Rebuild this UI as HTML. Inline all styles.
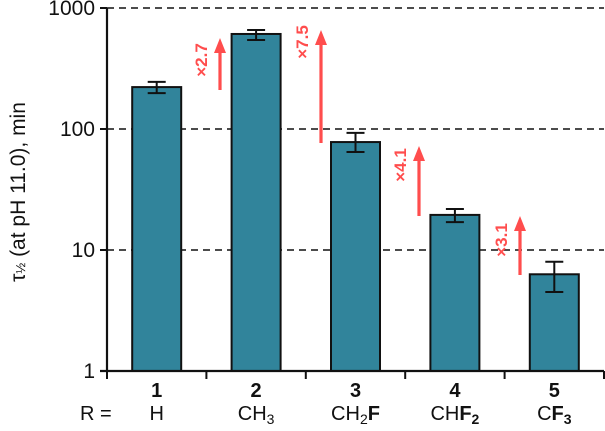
<!DOCTYPE html>
<html><head><meta charset="utf-8"><style>
body{margin:0;background:#fff}
svg text{font-family:"Liberation Sans",Arial,sans-serif}
</style></head><body>
<svg id="chart" width="605" height="426" viewBox="0 0 605 426">
<g id="grid"></g>
<g id="bars"></g>
<g id="axes"></g>
<g id="ann"></g>
<text transform="translate(25,192) rotate(-90)" text-anchor="middle" font-size="21" fill="#111">τ<tspan font-size="13">½</tspan> (at pH 11.0), min</text>
<text x="80" y="420" font-size="20" fill="#111">R =</text>
</svg>
<script>
const categories=["1","2","3","4","5"];
const substituents=[["H",""],["CH","3"],["CH","2","F"],["CH","F2"],["C","F3"]];
const values=[222,610,78,19.5,6.3];
const errHigh=[245,658,93,21.8,8.0];
const errLow=[198,544,64.5,17,4.5];
const yTicks=[1,10,100,1000];
const ratioLabels=["×2.7","×7.5","×4.1","×3.1"];
const NS="http://www.w3.org/2000/svg";
const x0=107,x1=604,band=(x1-x0)/5;
const yTop=8,yBot=371;
function y(v){return yBot-Math.log10(v)/3*(yBot-yTop);}
function xc(i){return x0+band*(i+0.5);}
function mk(tag,attrs,parent,txt){const e=document.createElementNS(NS,tag);for(const k in attrs)e.setAttribute(k,attrs[k]);if(txt!==undefined)e.textContent=txt;parent.appendChild(e);return e;}
const grid=document.getElementById('grid'),bars=document.getElementById('bars'),axes=document.getElementById('axes'),ann=document.getElementById('ann');
yTicks.forEach(t=>{
  if(t>1){const l=mk('line',{x1:x0,x2:x1,y1:y(t),y2:y(t),stroke:'#111','stroke-width':1.6,'stroke-dasharray':'7,5'},grid);
  
  }
  const tk=mk('line',{x1:x0-7,x2:x0,y1:y(t),y2:y(t),stroke:'#111','stroke-width':2},axes);
  
  
  const tl=mk('text',{x:x0-12,y:y(t)+7,'text-anchor':'end','font-size':21,fill:'#111'},axes,String(t));
  
  
});
const bw=49;
values.forEach((v,i)=>{
  const c=xc(i);
  const r=mk('rect',{x:c-bw/2,y:y(v),width:bw,height:yBot-y(v),fill:'#31849b',stroke:'#111','stroke-width':2},bars);
  
  
  const g=mk('g',{stroke:'#111','stroke-width':2},bars);
  
  
  mk('line',{x1:c,x2:c,y1:y(errHigh[i]),y2:y(errLow[i])},g);
  mk('line',{x1:c-9,x2:c+9,y1:y(errHigh[i]),y2:y(errHigh[i])},g);
  mk('line',{x1:c-9,x2:c+9,y1:y(errLow[i]),y2:y(errLow[i])},g);
  const n=mk('text',{x:c,y:397,'text-anchor':'middle','font-size':20,'font-weight':'bold',fill:'#111'},axes,categories[i]);
  
  
  const s=substituents[i];
  const t=mk('text',{x:c,y:420,'text-anchor':'middle','font-size':20,fill:'#111'},axes);
  
  
  mk('tspan',{},t,s[0]);
  if(i===1||i===2){mk('tspan',{'font-size':14,dy:4},t,s[1]);}
  if(i===2){mk('tspan',{'font-weight':'bold',dy:-4},t,s[2]);}
  if(i>=3){mk('tspan',{'font-weight':'bold'},t,'F');mk('tspan',{'font-size':14,dy:4,'font-weight':'bold'},t,s[1].slice(1));}
});
for(let i=0;i<=5;i++){const tk=mk('line',{x1:x0+band*i,x2:x0+band*i,y1:yBot,y2:yBot+8,stroke:'#111','stroke-width':2},axes);

}
const ya=mk('line',{x1:x0,x2:x0,y1:yTop,y2:yBot+1,stroke:'#111','stroke-width':2.2},axes);


const xa=mk('line',{x1:x0-7,x2:x1,y1:yBot,y2:yBot,stroke:'#111','stroke-width':2.2},axes);


// annotation arrow layout (pixel positions of decorative arrows)
const arrowLayout=[{x:220,b:90,t:38,ly:60},{x:321,b:143,t:30,ly:42},{x:419,b:216,t:146,ly:165},{x:520,b:275,t:216,ly:240}];
ratioLabels.forEach((lab,i)=>{
  const a=arrowLayout[i];
  const g=mk('g',{},ann);
  
  
  mk('line',{x1:a.x,x2:a.x,y1:a.b,y2:a.t+10,stroke:'#ff4d4d','stroke-width':3.2},g);
  mk('polygon',{points:`${a.x-6},${a.t+15} ${a.x},${a.t} ${a.x+6},${a.t+15}`,fill:'#ff4d4d'},g);
  const lt=mk('text',{transform:`translate(${a.x-13},${a.ly}) rotate(-90)`,'text-anchor':'middle','font-size':17,'font-weight':'bold',fill:'#ff4d4d'},g,lab);
  
  
});
</script>
</body></html>
